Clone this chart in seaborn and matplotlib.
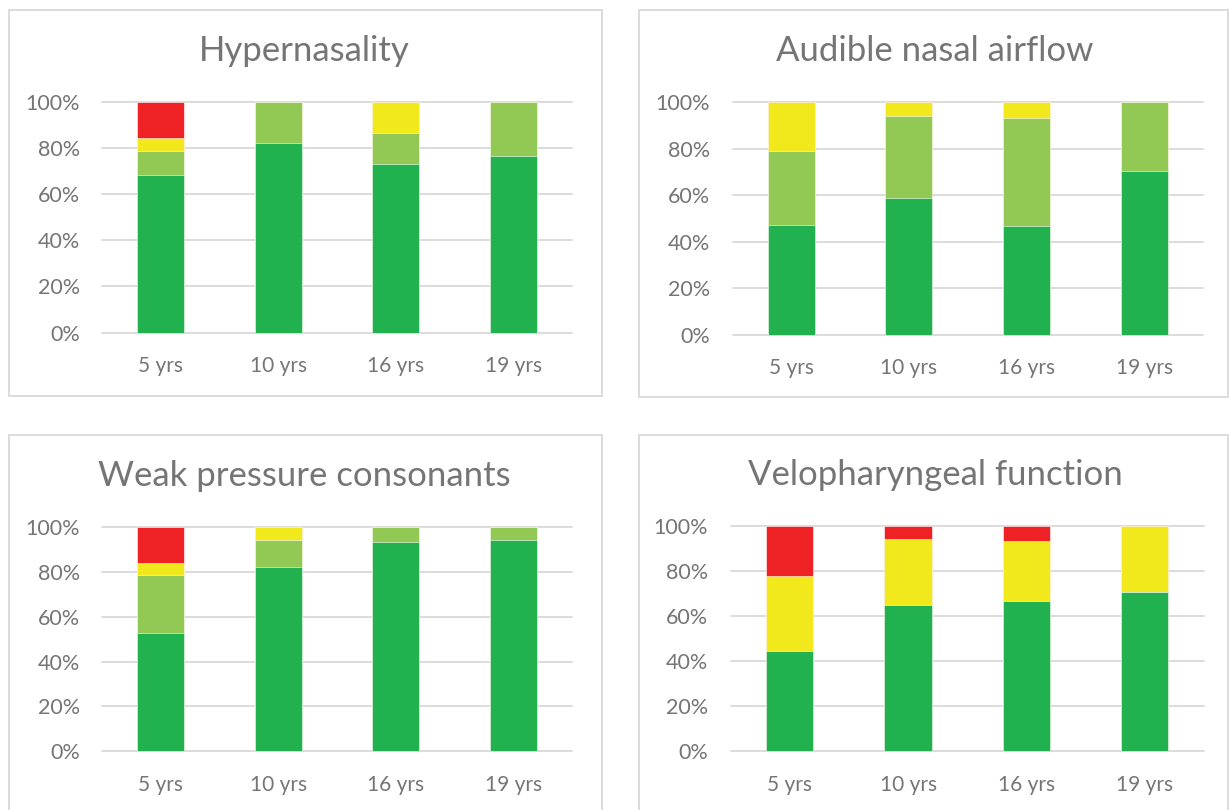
import numpy as np
import pandas as pd
import matplotlib
matplotlib.use("Agg")
import matplotlib.pyplot as plt
from matplotlib.patches import Rectangle
from matplotlib.ticker import FuncFormatter
import seaborn as sns

# ---------------- data (percent of patients) ----------------
ages = ["5 yrs", "10 yrs", "16 yrs", "19 yrs"]
levels = ["Level 1", "Level 2", "Level 3", "Level 4"]

titles = ["Hypernasality", "Audible nasal airflow",
          "Weak pressure consonants", "Velopharyngeal function"]

hyper_l1 = [68.4, 82.4, 73.3, 76.5]
hyper_l2 = [10.5, 17.6, 13.4, 23.5]
hyper_l3 = [5.3, 0.0, 13.3, 0.0]
hyper_l4 = [15.8, 0.0, 0.0, 0.0]

anf_l1 = [47.4, 58.8, 46.7, 70.6]
anf_l2 = [31.5, 35.3, 46.6, 29.4]
anf_l3 = [21.1, 5.9, 6.7, 0.0]
anf_l4 = [0.0, 0.0, 0.0, 0.0]

wpc_l1 = [52.6, 82.4, 93.3, 94.1]
wpc_l2 = [26.3, 11.8, 6.7, 5.9]
wpc_l3 = [5.3, 5.8, 0.0, 0.0]
wpc_l4 = [15.8, 0.0, 0.0, 0.0]

vpf_l1 = [44.4, 64.7, 66.7, 70.6]
vpf_l2 = [0.0, 0.0, 0.0, 0.0]
vpf_l3 = [33.4, 29.4, 26.6, 29.4]
vpf_l4 = [22.2, 5.9, 6.7, 0.0]

yticks = [0, 20, 40, 60, 80, 100]

panels = [
    [hyper_l1, hyper_l2, hyper_l3, hyper_l4],
    [anf_l1, anf_l2, anf_l3, anf_l4],
    [wpc_l1, wpc_l2, wpc_l3, wpc_l4],
    [vpf_l1, vpf_l2, vpf_l3, vpf_l4],
]

colors = ["#21B14F", "#92C854", "#F2E91C", "#EE2124"]
text_grey = "#757575"
grid_grey = "#D9D9D9"

# ---------------- layout (pixel geometry) ----------------
W, H = 1229, 810
sns.set_theme(style="white")
plt.rcParams["font.family"] = ["Lato", "DejaVu Sans"]

fig = plt.figure(figsize=(W / 100, H / 100), dpi=100)
fig.patch.set_facecolor("white")

# axes boxes: (left, right, top(100%), bottom(0%)) in pixels
axes_px = [
    (102, 572, 102, 332.5),
    (732.5, 1203, 102.3, 334.7),
    (102, 572, 527.3, 751),
    (730.5, 1204, 525.7, 751),
]
# panel frames: (x0, y0, x1, y1)
frames_px = [
    (8.6, 10, 601.6, 396),
    (638.7, 10, 1228, 397),
    (8.6, 435, 601.6, 830),
    (638.7, 435, 1228, 830),
]
title_px = [(304, 51), (935, 51), (304, 476), (935, 475)]

for frame in frames_px:
    x0, y0, x1, y1 = frame
    fig.add_artist(Rectangle((x0 / W, 1 - y1 / H), (x1 - x0) / W, (y1 - y0) / H,
                             transform=fig.transFigure, fill=False,
                             edgecolor=grid_grey, linewidth=1.3))

for i, (series, title) in enumerate(zip(panels, titles)):
    l, r, t, b = axes_px[i]
    ax = fig.add_axes([l / W, 1 - b / H, (r - l) / W, (b - t) / H])
    cum = np.cumsum(np.array(series), axis=0)
    # draw from the top layer down so lower layers cover upper ones
    for k in range(len(levels) - 1, -1, -1):
        df = pd.DataFrame({"age": ages, "value": cum[k]})
        sns.barplot(data=df, x="age", y="value", order=ages, color=colors[k],
                    width=0.4, errorbar=None, ax=ax, saturation=1,
                    edgecolor="white", linewidth=0.4)
    ax.set_xlim(-0.5, 3.5)
    ax.set_ylim(0, 100)
    ax.set_yticks(yticks)
    ax.yaxis.set_major_formatter(FuncFormatter(lambda v, p: f"{v:.0f}%"))
    ax.set_xlabel("")
    ax.set_ylabel("")
    for s in ax.spines.values():
        s.set_visible(False)
    ax.yaxis.grid(True, color=grid_grey, linewidth=1.3)
    ax.set_axisbelow(True)
    for gl in ax.get_ygridlines():
        gl.set_clip_on(False)
    ax.tick_params(axis="y", length=0, pad=16, labelsize=15.5, labelcolor=text_grey)
    ax.tick_params(axis="x", length=0, pad=17, labelsize=15, labelcolor=text_grey)
    ax.set_facecolor("none")
    tx, ty = title_px[i]
    fig.text(tx / W, 1 - ty / H, title, ha="center", va="center",
             fontsize=25, color=text_grey)

fig.savefig("out.png", dpi=100, facecolor="white")
